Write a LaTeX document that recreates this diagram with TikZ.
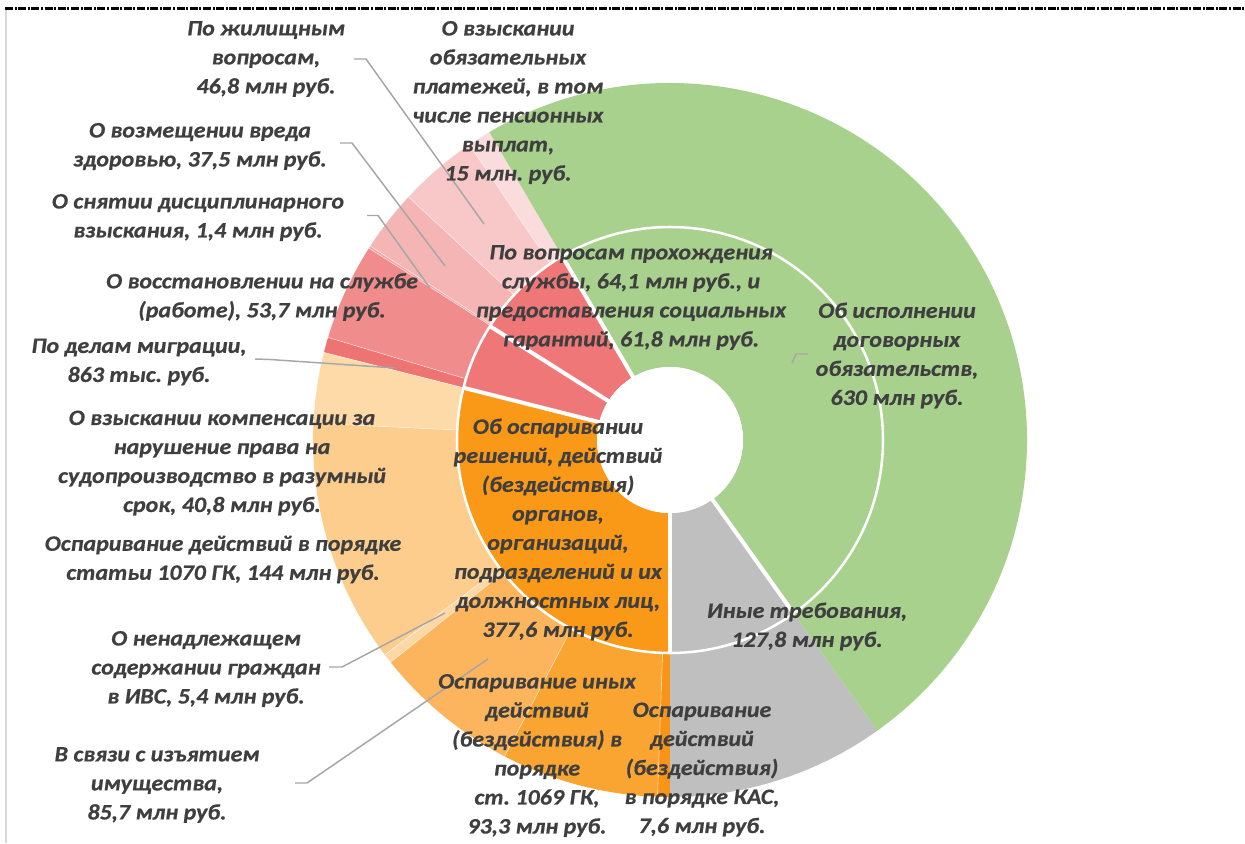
\documentclass[tikz,border=0pt]{standalone}
\usepackage{fontspec}
\setmainfont[FakeStretch=1.09, BoldItalicFeatures={FakeStretch=1.09, FakeBold=0.6}]{Carlito}
\usetikzlibrary{calc}
\frenchspacing
\definecolor{txt}{HTML}{3F3F3F}
\definecolor{cgreen}{HTML}{A9D18E}
\definecolor{cgrey}{HTML}{BFBFBF}
\definecolor{corange}{HTML}{FA9818}
\definecolor{cred}{HTML}{F07777}
\definecolor{pinkA}{HTML}{FADCDC}
\definecolor{pinkB}{HTML}{F8C8C8}
\definecolor{pinkC}{HTML}{F6B5B5}
\definecolor{pinkD}{HTML}{F4A6A6}
\definecolor{pinkE}{HTML}{F18C8C}
\definecolor{pinkF}{HTML}{EE7474}
\definecolor{orA}{HTML}{FDDAA8}
\definecolor{orB}{HTML}{FDCD8E}
\definecolor{orC}{HTML}{FDD8A6}
\definecolor{orD}{HTML}{FCB55C}
\definecolor{orE}{HTML}{FAA532}
\definecolor{orF}{HTML}{F99418}
\definecolor{leader}{HTML}{A6A6A6}
\newcommand{\sector}[5]{%
  \fill[#1] (#2:#4) arc[start angle=#2, end angle=#3, radius=#4] -- (#3:#5) arc[start angle=#3, end angle=#2, radius=#5] -- cycle;}
\begin{document}
\begin{tikzpicture}[x=0.75pt, y=-0.75pt,
  lbl/.style={text=txt, align=center, inner sep=0pt, font=\fontsize{16.5}{21.75}\selectfont\bfseries\itshape\frenchspacing},
  lead/.style={draw=leader, line width=1.1pt},
  septhick/.style={draw=white, line width=3pt},
  septhin/.style={draw=white, line width=0.4pt, opacity=0.7}]
\useasboundingbox (0,0) rectangle (1245,843);
\fill[white] (0,0) rectangle (1245,843);
% frame
\draw[black, line width=1.6pt, dash pattern=on 6pt off 1.2pt on 1.5pt off 1.2pt] (5,8.5) -- (1245,8.5);
\draw[black!15, line width=1.5pt] (6,10) -- (6,843);
% chart
\begin{scope}[shift={(670,440)}, y=0.75pt]
  % inner ring
  \sector{cred}{120.4}{165.8}{73}{213}
  \sector{corange}{165.8}{270}{73}{213}
  \sector{cgrey}{270}{305.5}{73}{213}
  \sector{cgreen}{305.5}{480.4}{73}{213}
  % outer ring
  \sector{pinkA}{120.4}{124.2}{213}{357}
  \sector{pinkB}{124.2}{137.1}{213}{357}
  \sector{pinkC}{137.1}{147.1}{213}{357}
  \sector{pinkD}{147.1}{147.5}{213}{357}
  \sector{pinkE}{147.5}{163.3}{213}{357}
  \sector{pinkF}{163.3}{165.8}{213}{357}
  \sector{orA}{165.8}{177.3}{213}{357}
  \sector{orB}{177.3}{217.0}{213}{357}
  \sector{orC}{217.0}{218.5}{213}{357}
  \sector{orD}{218.5}{242.4}{213}{357}
  \sector{orE}{242.4}{268.0}{213}{357}
  \sector{orF}{268.0}{270}{213}{357}
  \sector{cgrey}{270}{305.5}{213}{357}
  \sector{cgreen}{305.5}{480.4}{213}{357}
  % thin separators in outer ring
  \foreach \a in {124.2,137.1,147.1,147.5,163.3,165.8,177.3,217.0,218.5,242.4,268.0}
    \draw[septhin] (\a:213) -- (\a:357);
  % circle between rings
  \draw[white, line width=1.9pt] (0,0) circle[radius=213];
  % thick separators in inner ring
  \foreach \a in {120.4,147.7,165.8,270,305.5}
    \draw[septhick] (\a:72) -- (\a:213);
  % hole
  \fill[white] (0,0) circle[radius=73];
\end{scope}
% leader lines
\coordinate (l1a) at (354,59); \coordinate (l1b) at (366,59); \coordinate (l1c) at (484,224);
\draw[lead] (l1a) -- (l1b) -- (l1c);
\coordinate (l2a) at (340,143); \coordinate (l2b) at (352,143); \coordinate (l2c) at (445,266);
\draw[lead] (l2a) -- (l2b) -- (l2c);
\coordinate (l3a) at (367,215.5); \coordinate (l3b) at (378,215.5); \coordinate (l3c) at (430,288);
\draw[lead] (l3a) -- (l3b) -- (l3c);
\coordinate (l4a) at (255,359); \coordinate (l4b) at (270,359.5); \coordinate (l4c) at (395,368);
\draw[lead] (l4a) -- (l4b) -- (l4c);
\coordinate (l5a) at (329,667); \coordinate (l5b) at (342,667); \coordinate (l5c) at (445,613);
\draw[lead] (l5a) -- (l5b) -- (l5c);
\coordinate (l6a) at (295,783); \coordinate (l6b) at (307,783); \coordinate (l6c) at (488,659);
\draw[lead] (l6a) -- (l6b) -- (l6c);
\coordinate (l7a) at (792,363); \coordinate (l7b) at (796,354); \coordinate (l7c) at (808,354);
\draw[lead] (l7a) -- (l7b) -- (l7c);
% labels
\node[lbl] (t1) at (266,59) {По жилищным\\вопросам,\\46,8 млн руб.};
\node[lbl] (t2) at (508,102.5) {О взыскании\\обязательных\\платежей, в том\\числе пенсионных\\выплат,\\15 млн. руб.};
\node[lbl] (t3) at (200,146.5) {О возмещении вреда\\здоровью, 37,5 млн руб.};
\node[lbl] (t4) at (198,217.5) {О снятии дисциплинарного\\взыскания, 1,4 млн руб.};
\node[lbl] (t5) at (262,297) {О восстановлении на службе\\(работе), 53,7 млн руб.};
\node[lbl] (t6) at (139,362) {По делам миграции,\\863 тыс. руб.};
\node[lbl] (t7) at (222,463) {О взыскании компенсации за\\нарушение права на\\судопроизводство в разумный\\срок, 40,8 млн руб.};
\node[lbl] (t8) at (223,559.5) {Оспаривание действий в порядке\\статьи 1070 ГК, 144 млн руб.};
\node[lbl] (t9) at (206,669) {О ненадлежащем\\содержании граждан\\в ИВС, 5,4 млн руб.};
\node[lbl] (t10) at (157,785) {В связи с изъятием\\имущества,\\85,7 млн руб.};
\node[lbl] (t11) at (558,529.5) {Об оспаривании\\решений, действий\\(бездействия)\\органов,\\организаций,\\подразделений и их\\должностных лиц,\\377,6 млн руб.};
\node[lbl] (t12) at (631,297.5) {По вопросам прохождения\\службы, 64,1 млн руб., и\\предоставления социальных\\гарантий, 61,8 млн руб.};
\node[lbl] (t13) at (897,355.5) {Об исполнении\\договорных\\обязательств,\\630 млн руб.};
\node[lbl] (t14) at (807,626.5) {Иные требования,\\127,8 млн руб.};
\node[lbl] (t15) at (537,755.5) {Оспаривание иных\\действий\\(бездействия) в\\порядке\\ст. 1069 ГК,\\93,3 млн руб.};
\node[lbl] (t16) at (702,769.5) {Оспаривание\\действий\\(бездействия)\\в порядке КАС,\\7,6 млн руб.};
\end{tikzpicture}
\end{document}
